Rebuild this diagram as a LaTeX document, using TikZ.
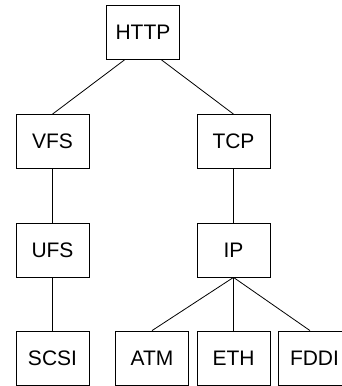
\documentclass[tikz,border=0pt]{standalone}
\usepackage{fontspec}
\setmainfont{Liberation Sans}

\tikzset{
    layer/.style={draw, line width=0.8pt, minimum width=73pt, minimum height=54pt,
                  inner sep=0pt, font=\fontsize{21}{24}\selectfont},
    link/.style={line width=0.8pt}
}

\begin{document}
\begin{tikzpicture}[x=1pt,y=-1pt]
                    \useasboundingbox (0,0) rectangle (342,386);
                    \clip (0,0) rectangle (342,386);

                    \node[layer] (http) at (143,32.5) {HTTP};

                    \node[layer] (vfs) at (52.5,141.5) {VFS};
                    \node[layer] (tcp) at (233.5,141.5) {TCP};

                    \node[layer] (ufs) at (52.5,250) {UFS};
                    \node[layer] (ip) at (233.5,250) {IP};

                    \node[layer] (scsi) at (52.5,358) {SCSI};
                    \node[layer] (atm) at (152,358) {ATM};
                    \node[layer] (eth) at (233.5,358) {ETH};
                    \node[layer] (fddi) at (314.5,358) {FDDI};

                    \draw[link] ([xshift=-18.5pt]http.south) -- (vfs.north);
                    \draw[link] ([xshift=18.5pt]http.south) -- (tcp.north);

                    \draw[link] (vfs) -- (ufs);
                    \draw[link] (ufs) -- (scsi);
                    \draw[link] (tcp) -- (ip);

                    \draw[link] (ip.south) -- (atm.north);
                    \draw[link] (ip.south) -- (eth.north);
                    \draw[link] (ip.south) -- ([xshift=-4.5pt]fddi.north);
                \end{tikzpicture}
\end{document}
